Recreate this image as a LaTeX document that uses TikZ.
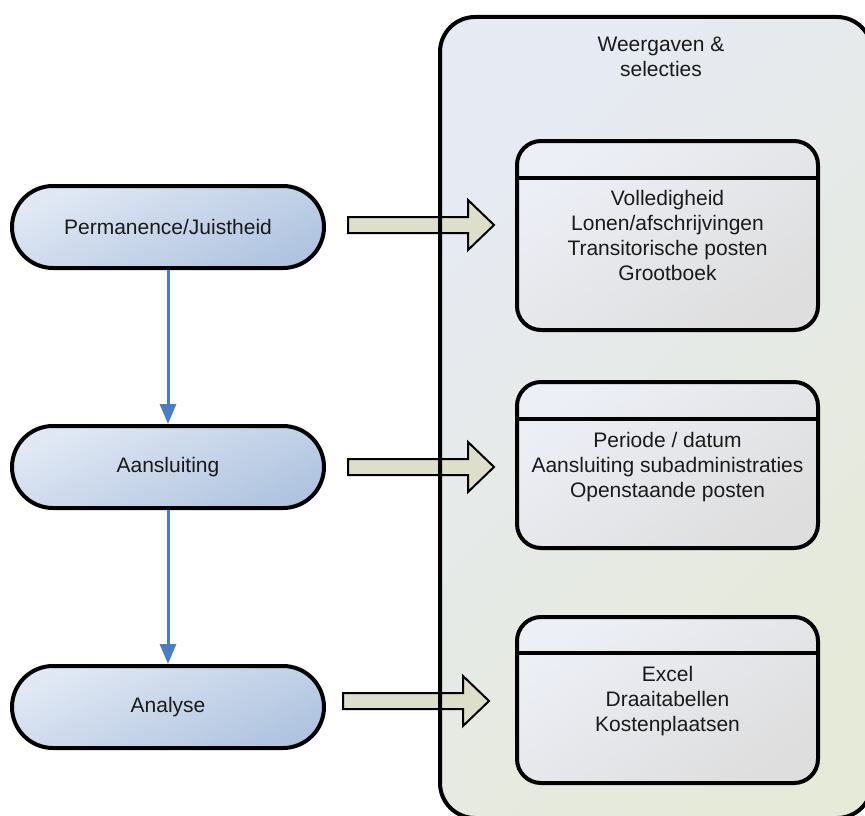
\documentclass[tikz,border=0pt]{standalone}
\usepackage{fontspec}
\setmainfont{Liberation Sans}
\usetikzlibrary{arrows.meta}
\definecolor{pillA}{HTML}{E0E8F4}
\definecolor{pillB}{HTML}{B0C4E0}
\definecolor{panelA}{HTML}{E6EAF3}
\definecolor{panelB}{HTML}{E6EAD9}
\definecolor{boxA}{HTML}{ECEFF6}
\definecolor{boxB}{HTML}{DEDEDE}
\definecolor{barrow}{HTML}{DDDFCA}
\definecolor{flowblue}{HTML}{4A7DC4}
\definecolor{txt}{HTML}{1A1A1A}
\begin{document}
\begin{tikzpicture}[x=1pt,y=-1pt,
  lbl/.style={font=\fontsize{21}{25}\selectfont, text=txt, align=center, inner sep=0pt},
  pill/.style={lbl, draw=black, line width=4pt, rounded corners=41pt,
    minimum width=312pt, minimum height=82pt,
    top color=pillA, bottom color=pillB, shading angle=25},
  listbox/.style={draw=black, line width=4pt, rounded corners=24pt,
    minimum width=301pt, top color=boxA, bottom color=boxB, shading angle=35},
  flow/.style={draw=flowblue, line width=3pt, -{Triangle[width=16pt,length=20pt]}},
  blockarrow/.pic={
    \draw[fill=barrow, draw=black, line width=2pt, line join=miter]
      (0,-8) -- (120,-8) -- (120,-25) -- (146,0) -- (120,25) -- (120,8) -- (0,8) -- cycle;
  }
]
\useasboundingbox (0,0) rectangle (865,816);

% panel background
\path[top color=panelA, bottom color=panelB, shading angle=45, rounded corners=35pt]
  (440,17) rectangle (872,818);

% block arrows
\pic at (348,225) {blockarrow};
\pic at (348,467) {blockarrow};
\pic at (343,701) {blockarrow};

% panel border
\draw[line width=4pt, rounded corners=35pt] (440,17) rectangle (872,818);
\node[lbl] (title) at (661,57) {Weergaven \&\\selecties};

% left pills
\node[pill] (p1) at (168,227) {Permanence/Juistheid};
\node[pill] (p2) at (168,467) {Aansluiting};
\node[pill] (p3) at (168,707) {Analyse};
\draw[flow] (p1.south) -- (p2.north);
\draw[flow] (p2.south) -- (p3.north);

% right boxes
\node[listbox, minimum height=189pt] (b1) at (667.5,235.5) {};
\draw[line width=4pt] (b1.west |- 0,178) -- (b1.east |- 0,178);
\node[lbl] (t1) at (667.5,235) {Volledigheid\\Lonen/afschrijvingen\\Transitorische posten\\Grootboek};

\node[listbox, minimum height=166pt] (b2) at (667.5,465) {};
\draw[line width=4pt] (b2.west |- 0,419) -- (b2.east |- 0,419);
\node[lbl] (t2) at (667.5,467) {Periode / datum\\Aansluiting subadministraties\\Openstaande posten};

\node[listbox, minimum height=166pt] (b3) at (667.5,700) {};
\draw[line width=4pt] (b3.west |- 0,653) -- (b3.east |- 0,653);
\node[lbl] (t3) at (667.5,701) {Excel\\Draaitabellen\\Kostenplaatsen};
\end{tikzpicture}
\end{document}
